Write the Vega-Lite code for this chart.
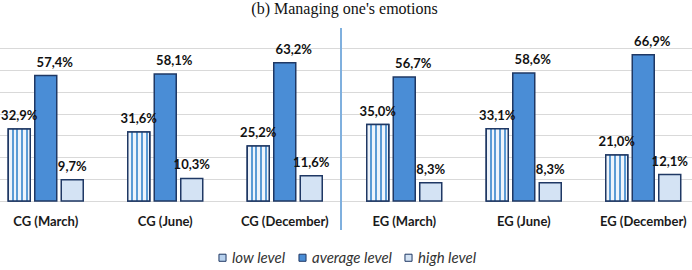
{
  "$schema": "https://vega.github.io/schema/vega-lite/v6.json",
  "autosize": {"type": "none"},
  "padding": {"left": -14, "right": -11, "top": 48, "bottom": 69},
  "width": 717,
  "height": 153,
  "background": "white",
  "title": {
    "text": "(b) Managing one's emotions",
    "font": "Liberation Serif",
    "fontSize": 16,
    "fontWeight": "normal",
    "color": "#111111",
    "anchor": "middle",
    "baseline": "alphabetic",
    "offset": -2
  },
  "config": {"view": {"stroke": null}},
  "data": {
    "values": [
      {"group": "CG (March)", "level": "low level", "value": 32.9},
      {"group": "CG (March)", "level": "average level", "value": 57.4},
      {"group": "CG (March)", "level": "high level", "value": 9.7},
      {"group": "CG (June)", "level": "low level", "value": 31.6},
      {"group": "CG (June)", "level": "average level", "value": 58.1},
      {"group": "CG (June)", "level": "high level", "value": 10.3},
      {"group": "CG (December)", "level": "low level", "value": 25.2},
      {"group": "CG (December)", "level": "average level", "value": 63.2},
      {"group": "CG (December)", "level": "high level", "value": 11.6},
      {"group": "EG (March)", "level": "low level", "value": 35.0},
      {"group": "EG (March)", "level": "average level", "value": 56.7},
      {"group": "EG (March)", "level": "high level", "value": 8.3},
      {"group": "EG (June)", "level": "low level", "value": 33.1},
      {"group": "EG (June)", "level": "average level", "value": 58.6},
      {"group": "EG (June)", "level": "high level", "value": 8.3},
      {"group": "EG (December)", "level": "low level", "value": 21.0},
      {"group": "EG (December)", "level": "average level", "value": 66.9},
      {"group": "EG (December)", "level": "high level", "value": 12.1}
    ]
  },
  "transform": [
    {"calculate": "replace(format(datum.value, '.1f'), '.', ',') + '%'", "as": "label"}
  ],
  "encoding": {
    "x": {
      "field": "group",
      "type": "nominal",
      "sort": null,
      "scale": {"paddingInner": 0, "paddingOuter": 0},
      "axis": {
        "title": null,
        "domain": false,
        "ticks": false,
        "labelAngle": 0,
        "labelFont": "Lato",
        "labelFontWeight": "bold",
        "labelFontSize": 13,
        "labelColor": "#1a1a1a",
        "labelPadding": 14,
        "grid": false
      }
    },
    "xOffset": {
      "field": "level",
      "type": "nominal",
      "scale": {"domain": ["low level", "average level", "high level"], "paddingInner": 0.17, "paddingOuter": 0.84}
    },
    "y": {
      "field": "value",
      "type": "quantitative",
      "scale": {"domain": [0, 70], "nice": false, "zero": true},
      "axis": {
        "title": null,
        "labels": false,
        "ticks": false,
        "domain": false,
        "grid": true,
        "gridColor": "#d9d9d9",
        "gridWidth": 1,
        "values": [0, 10, 20, 30, 40, 50, 60, 70]
      }
    }
  },
  "layer": [
    {
      "mark": {"type": "bar", "stroke": "#1f3864", "strokeWidth": 1.5},
      "encoding": {
        "fill": {
          "field": "level",
          "type": "nominal",
          "scale": {"domain": ["low level", "average level", "high level"], "range": ["#b7d1ee", "#4a8dd6", "#d4e3f4"]},
          "legend": {
            "title": null,
            "orient": "none",
            "direction": "horizontal",
            "legendX": 229,
            "legendY": 202,
            "symbolType": "square",
            "symbolSize": 50,
            "symbolStrokeColor": "#1f3864",
            "symbolStrokeWidth": 1,
            "symbolOpacity": 1,
            "labelFont": "Lato",
            "labelFontStyle": "italic",
            "labelFontSize": 15,
            "labelColor": "#333333",
            "columnPadding": 9,
            "labelOffset": 2
          }
        }
      }
    },
    {
      "transform": [{"filter": "datum.level == 'low level'"}],
      "mark": {
        "type": "bar",
        "stroke": "#1f3864",
        "strokeWidth": 1.5,
        "fill": {
          "gradient": "linear",
          "x1": 0, "x2": 1, "y1": 0, "y2": 0,
          "stops": [
            {"offset": 0, "color": "#eef4fb"},
            {"offset": 0.15, "color": "#eef4fb"},
            {"offset": 0.15, "color": "#5b9bd5"},
            {"offset": 0.24, "color": "#5b9bd5"},
            {"offset": 0.24, "color": "#eef4fb"},
            {"offset": 0.37, "color": "#eef4fb"},
            {"offset": 0.37, "color": "#5b9bd5"},
            {"offset": 0.46, "color": "#5b9bd5"},
            {"offset": 0.46, "color": "#eef4fb"},
            {"offset": 0.59, "color": "#eef4fb"},
            {"offset": 0.59, "color": "#5b9bd5"},
            {"offset": 0.68, "color": "#5b9bd5"},
            {"offset": 0.68, "color": "#eef4fb"},
            {"offset": 0.81, "color": "#eef4fb"},
            {"offset": 0.81, "color": "#5b9bd5"},
            {"offset": 0.9, "color": "#5b9bd5"},
            {"offset": 0.9, "color": "#eef4fb"},
            {"offset": 1, "color": "#eef4fb"}
          ]
        }
      }
    },
    {
      "mark": {"type": "rule", "color": "#7fb0de", "strokeWidth": 1.5},
      "encoding": {
        "x": {"datum": "EG (March)", "bandPosition": -0.03},
        "xOffset": null,
        "y": {"datum": 79},
        "y2": {"datum": -13.3}
      }
    },
    {
      "transform": [{"filter": "datum.level != 'average level'"}],
      "mark": {"type": "text", "baseline": "alphabetic", "dy": -9, "font": "Lato", "fontWeight": "bold", "fontSize": 13, "color": "#111111"},
      "encoding": {"text": {"field": "label"}}
    },
    {
      "transform": [{"filter": "datum.level == 'average level'"}],
      "mark": {"type": "text", "baseline": "alphabetic", "dy": -9, "dx": 9, "font": "Lato", "fontWeight": "bold", "fontSize": 13, "color": "#111111"},
      "encoding": {"text": {"field": "label"}}
    }
  ]
}
